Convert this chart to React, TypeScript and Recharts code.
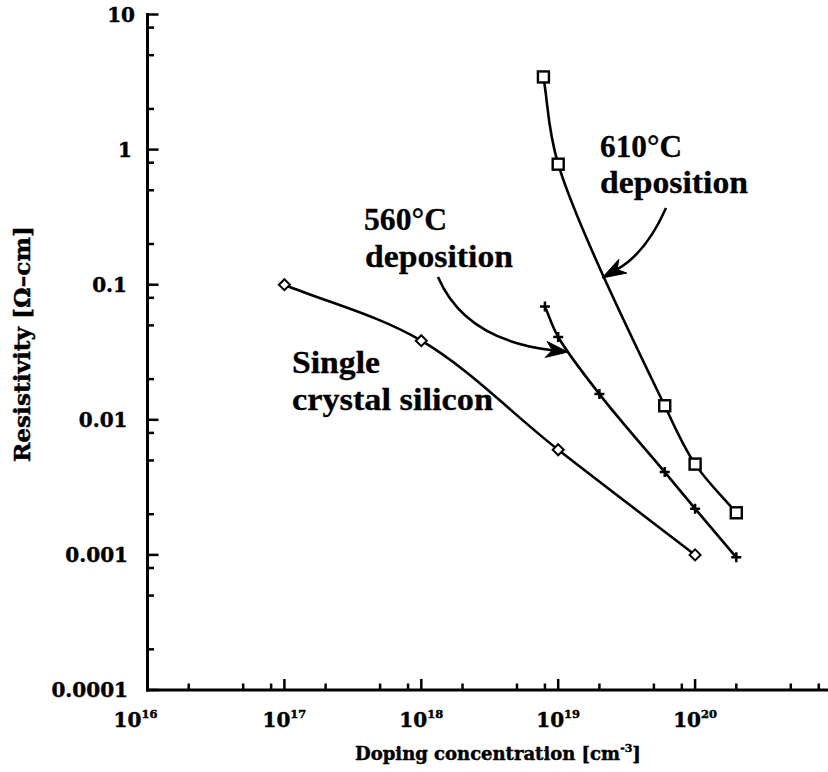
import React from "react";
import { LineChart, Line, XAxis, YAxis } from "recharts";

// ---- data ----
const concSingle = [1e17, 1e18, 1e19, 1e20];
const rhoSingle = [0.1, 0.0385, 0.006, 0.001];

const conc560 = [8e18, 1e19, 2e19, 6e19, 1e20, 2e20];
const rho560 = [0.069, 0.041, 0.0155, 0.0041, 0.0022, 0.00096];

const conc610 = [7.8e18, 1e19, 6e19, 1e20, 2e20];
const rho610 = [3.45, 0.78, 0.0127, 0.0047, 0.00205];

const xMajor = [1e16, 1e17, 1e18, 1e19, 1e20, 1e21];
const xExpLabels = ["16", "17", "18", "19", "20", ""];
const yMajor = [1e-4, 1e-3, 1e-2, 1e-1, 1, 10];
const yTickLabels = ["0.0001", "0.001", "0.01", "0.1", "1", "10"];
const minorMult = [2, 5, 8];

const toRows = (xs: number[], ys: number[]) => xs.map((x, i) => ({ x, y: ys[i] }));
const dataSingle = toRows(concSingle, rhoSingle);
const data560 = toRows(conc560, rho560);
const data610 = toRows(conc610, rho610);

const withMinors = (majors: number[]) => {
  const out: number[] = [];
  majors.forEach((m, i) => {
    out.push(m);
    if (i < majors.length - 1) minorMult.forEach((k) => out.push(k * m));
  });
  return out;
};
const xTicks = withMinors(xMajor);
const yTicks = withMinors(yMajor);

const majorIndex = (arr: number[], v: number) =>
  arr.findIndex((m) => Math.abs(v / m - 1) < 1e-9);

// centripetal Catmull-Rom curve (smooth spline through the points)
const catmullRom = (context: any) => {
  let pts: number[][] = [];
  const alpha = 0.5;
  return {
    areaStart() {},
    areaEnd() {},
    lineStart() {
      pts = [];
    },
    point(x: number, y: number) {
      pts.push([+x, +y]);
    },
    lineEnd() {
      const n = pts.length;
      if (!n) return;
      context.moveTo(pts[0][0], pts[0][1]);
      if (n === 1) return;
      const d = (a: number[], b: number[]) => Math.hypot(b[0] - a[0], b[1] - a[1]);
      for (let i = 0; i < n - 1; i++) {
        const p1 = pts[i];
        const p2 = pts[i + 1];
        // mirrored phantom end points keep the ends straight
        const p0 = i > 0 ? pts[i - 1] : [2 * p1[0] - p2[0], 2 * p1[1] - p2[1]];
        const p3 = i + 2 < n ? pts[i + 2] : [2 * p2[0] - p1[0], 2 * p2[1] - p1[1]];
        const l01a = Math.pow(d(p0, p1), alpha);
        const l12a = Math.pow(d(p1, p2), alpha);
        const l23a = Math.pow(d(p2, p3), alpha);
        const l01_2a = l01a * l01a;
        const l12_2a = l12a * l12a;
        const l23_2a = l23a * l23a;
        const a = 2 * l01_2a + 3 * l01a * l12a + l12_2a;
        const m1 = 3 * l01a * (l01a + l12a);
        const c1x = (p1[0] * a - p0[0] * l12_2a + p2[0] * l01_2a) / m1;
        const c1y = (p1[1] * a - p0[1] * l12_2a + p2[1] * l01_2a) / m1;
        const b = 2 * l23_2a + 3 * l23a * l12a + l12_2a;
        const m2 = 3 * l23a * (l23a + l12a);
        const c2x = (p2[0] * b + p1[0] * l23_2a - p3[0] * l12_2a) / m2;
        const c2y = (p2[1] * b + p1[1] * l23_2a - p3[1] * l12_2a) / m2;
        context.bezierCurveTo(c1x, c1y, c2x, c2y, p2[0], p2[1]);
      }
    },
  };
};

const SERIF = "'DejaVu Serif', serif";
const TIMES = "'Liberation Serif', 'Times New Roman', serif";
const MAJ = 11;
const MIN = 6.5;
const TICK_W = 2.5;

const labelStyle = {
  fontFamily: SERIF,
  fontWeight: "bold" as const,
  fill: "#000",
  stroke: "#000",
  strokeWidth: 0.45,
};

const BottomTick = (props: any) => {
  const { x, y, payload } = props;
  const idx = majorIndex(xMajor, payload.value);
  const major = idx >= 0;
  const exp = major ? xExpLabels[idx] : "";
  const lx = idx === 0 ? x - 12 : x;
  return (
    <g>
      <path d={`M${x},${y}V${y - (major ? MAJ : MIN)}`} stroke="#000" strokeWidth={TICK_W} fill="none" />
      {major && exp && (
        <text x={lx} y={y + 37} textAnchor="middle" fontSize={20} {...labelStyle}>
          <tspan>10</tspan>
          <tspan dy={-9} fontSize={11.5}>{exp}</tspan>
        </text>
      )}
    </g>
  );
};

const TopTick = (props: any) => {
  const { x, y, payload } = props;
  const major = majorIndex(xMajor, payload.value) >= 0;
  return <path d={`M${x},${y}V${y + (major ? MAJ : MIN)}`} stroke="#000" strokeWidth={TICK_W} fill="none" />;
};

const yLabelRight = [128, 128, 127.5, 127, 132, 135];

const LeftTick = (props: any) => {
  const { x, y, payload } = props;
  const idx = majorIndex(yMajor, payload.value);
  const major = idx >= 0;
  return (
    <g>
      <path d={`M${x},${y}H${x + (major ? MAJ : MIN)}`} stroke="#000" strokeWidth={TICK_W} fill="none" />
      {major && (
        <text x={x - 147.5 + yLabelRight[idx]} y={y + 7.3} textAnchor="end" fontSize={20} {...labelStyle}>
          {yTickLabels[idx]}
        </text>
      )}
    </g>
  );
};

const RightTick = (props: any) => {
  const { x, y, payload } = props;
  const major = majorIndex(yMajor, payload.value) >= 0;
  return <path d={`M${x},${y}H${x - (major ? MAJ : MIN)}`} stroke="#000" strokeWidth={TICK_W} fill="none" />;
};

const DiamondDot = (p: any) => {
  const { cx, cy, index } = p;
  if (cx == null || cy == null) return <g key={`dd${index}`} />;
  const r = 5.5;
  return (
    <path key={`dd${index}`} d={`M${cx},${cy - r}L${cx + r},${cy}L${cx},${cy + r}L${cx - r},${cy}Z`}
      fill="#fff" stroke="#000" strokeWidth={2} />
  );
};
const SquareDot = (p: any) => {
  const { cx, cy, index } = p;
  if (cx == null || cy == null) return <g key={`sq${index}`} />;
  const h = 5.5;
  return <rect key={`sq${index}`} x={cx - h} y={cy - h} width={2 * h} height={2 * h} fill="#fff" stroke="#000" strokeWidth={2.4} />;
};
const PlusDot = (p: any) => {
  const { cx, cy, index } = p;
  if (cx == null || cy == null) return <g key={`pl${index}`} />;
  const h = 5;
  return <path key={`pl${index}`} d={`M${cx - h},${cy}H${cx + h}M${cx},${cy - h}V${cy + h}`} stroke="#000" strokeWidth={2.5} fill="none" />;
};

type Pt = [number, number];
const CurvedArrow = ({ p0, c, p2, L, w }: { p0: Pt; c: Pt; p2: Pt; L: number; w: number }) => {
  let dx = p2[0] - c[0];
  let dy = p2[1] - c[1];
  const len = Math.hypot(dx, dy);
  dx /= len;
  dy /= len;
  const nx = -dy;
  const ny = dx;
  const bx = p2[0] - L * dx;
  const by = p2[1] - L * dy;
  const mx = p2[0] - 0.72 * L * dx;
  const my = p2[1] - 0.72 * L * dy;
  const head = `M${p2[0]},${p2[1]}L${bx + w * nx},${by + w * ny}L${mx},${my}L${bx - w * nx},${by - w * ny}Z`;
  return (
    <g>
      <path d={`M${p0[0]},${p0[1]}Q${c[0]},${c[1]} ${mx},${my}`} fill="none" stroke="#000" strokeWidth={2.6} />
      <path d={head} fill="#000" stroke="#000" strokeWidth={1} strokeLinejoin="miter" />
    </g>
  );
};

const annStyle = { fontFamily: TIMES, fontWeight: "bold" as const, fontSize: 31, fill: "#000", stroke: "#000", strokeWidth: 0.3 };

const axisLineStyle = { stroke: "#000", strokeWidth: 3, strokeLinecap: "square" as const };

export default function App() {
  return (
    <div style={{ position: "absolute", left: 0, top: 0, width: 828, height: 772, overflow: "hidden", background: "#fff" }}>
      <LineChart width={850} height={772} margin={{ top: 14.5, right: 18, bottom: 0, left: 0 }}>
        <XAxis
          xAxisId={0}
          dataKey="x"
          type="number"
          scale="log"
          domain={[1e16, 1e21]}
          allowDataOverflow
          ticks={xTicks}
          interval={0}
          height={82}
          tickSize={0}
          tickMargin={0}
          axisLine={axisLineStyle}
          tickLine={false}
          tick={(p: any) => <BottomTick {...p} />}
        />
        <XAxis
          xAxisId="top"
          orientation="top"
          dataKey="x"
          type="number"
          scale="log"
          domain={[1e16, 1e21]}
          allowDataOverflow
          ticks={xTicks}
          interval={0}
          height={0}
          tickSize={0}
          tickMargin={0}
          axisLine={axisLineStyle}
          tickLine={false}
          tick={(p: any) => <TopTick {...p} />}
        />
        <YAxis
          yAxisId={0}
          type="number"
          scale="log"
          domain={[1e-4, 10]}
          allowDataOverflow
          ticks={yTicks}
          interval={0}
          width={147.5}
          tickSize={0}
          tickMargin={0}
          axisLine={axisLineStyle}
          tickLine={false}
          tick={(p: any) => <LeftTick {...p} />}
        />
        <YAxis
          yAxisId="right"
          orientation="right"
          type="number"
          scale="log"
          domain={[1e-4, 10]}
          allowDataOverflow
          ticks={yTicks}
          interval={0}
          width={0}
          tickSize={0}
          tickMargin={0}
          axisLine={axisLineStyle}
          tickLine={false}
          tick={(p: any) => <RightTick {...p} />}
        />
        <Line data={dataSingle} dataKey="y" xAxisId={0} yAxisId={0} type={catmullRom as any} stroke="#000" strokeWidth={2.6}
          dot={DiamondDot} activeDot={false} isAnimationActive={false} />
        <Line data={data560} dataKey="y" xAxisId={0} yAxisId={0} type={catmullRom as any} stroke="#000" strokeWidth={2.6}
          dot={PlusDot} activeDot={false} isAnimationActive={false} />
        <Line data={data610} dataKey="y" xAxisId={0} yAxisId={0} type={catmullRom as any} stroke="#000" strokeWidth={2.6}
          dot={SquareDot} activeDot={false} isAnimationActive={false} />
      </LineChart>
      <svg width={828} height={772} style={{ position: "absolute", left: 0, top: 0, pointerEvents: "none" }}>
        <text x={498} y={760} textAnchor="middle" fontSize={18} {...labelStyle}>
          <tspan>Doping concentration [cm</tspan>
          <tspan dy={-8} fontSize={11}>-3</tspan>
          <tspan dy={8}>]</tspan>
        </text>
        <text x={29.5} y={344} textAnchor="middle" transform="rotate(-90 29.5 344)" fontSize={22}
          textLength={236} lengthAdjust="spacingAndGlyphs" {...labelStyle}>
          Resistivity [Ω–cm]
        </text>

        <text x={600} y={157} textLength={82} lengthAdjust="spacingAndGlyphs" {...annStyle}>610°C</text>
        <text x={600} y={193} textLength={148} lengthAdjust="spacingAndGlyphs" {...annStyle}>deposition</text>

        <text x={364} y={230} textLength={83} lengthAdjust="spacingAndGlyphs" {...annStyle}>560°C</text>
        <text x={365} y={267} textLength={148} lengthAdjust="spacingAndGlyphs" {...annStyle}>deposition</text>

        <text x={292} y={373} textLength={88} lengthAdjust="spacingAndGlyphs" {...annStyle}>Single</text>
        <text x={292} y={410} textLength={201} lengthAdjust="spacingAndGlyphs" {...annStyle}>crystal silicon</text>

        <CurvedArrow p0={[666, 208]} c={[646, 253]} p2={[602, 278]} L={24} w={8} />
        <CurvedArrow p0={[438, 277]} c={[465, 340]} p2={[568, 352]} L={22} w={8} />
      </svg>
    </div>
  );
}
